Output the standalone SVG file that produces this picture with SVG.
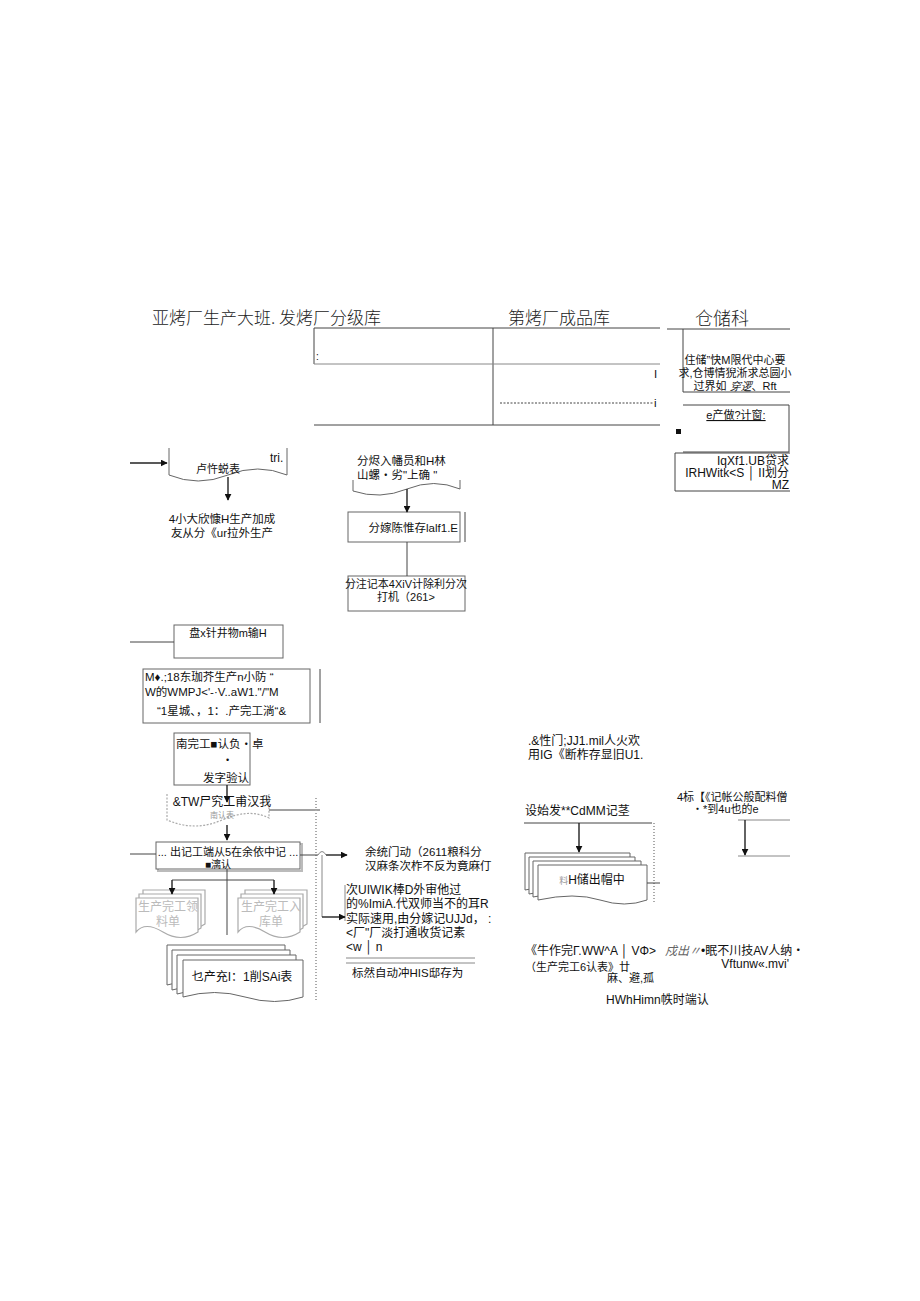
<svg xmlns="http://www.w3.org/2000/svg" width="920" height="1301" viewBox="0 0 920 1301">
<defs>
<style>
.t{font-family:"Liberation Sans","Noto Sans CJK SC",sans-serif;font-size:11.5px;fill:#111}
.h{font-family:"Noto Sans CJK SC",sans-serif;font-size:17px;font-weight:300;fill:#222}
.g{font-family:"Noto Sans CJK SC",serif;font-size:12px;fill:#bbb}
.ln{stroke:#444;stroke-width:1;fill:none}
.lg{stroke:#888;stroke-width:1;fill:none}
.dot{stroke:#aaa;stroke-width:2;stroke-dasharray:1 2;fill:none}
.doc{fill:#fff;stroke:#666;stroke-width:1}
.docg{fill:#fff;stroke:#aaa;stroke-width:1.2}
.ar{stroke:#222;stroke-width:1.4;fill:none;marker-end:url(#a)}
</style>
<marker id="a" viewBox="0 0 10 10" refX="9" refY="5" markerWidth="7" markerHeight="7" orient="auto" markerUnits="userSpaceOnUse"><path d="M0,0L10,5L0,10z" fill="#111"/></marker>
</defs>
<rect width="920" height="1301" fill="#fff"/>

<g id="header">
<text class="h" x="152" y="324">亚烤厂生产大班. 发烤厂分级库</text>
<text class="h" x="508" y="324">第烤厂成品库</text>
<text class="h" x="695" y="325" style="font-size:18px">仓储科</text>
<path class="ln" d="M314,328H660M314,328V364M493,328V425M314,425H660"/>
<path class="lg" d="M314,364H660" stroke="#9a9"/>
<text class="t" x="316" y="360" style="font-size:10px">:</text>
<text class="t" x="654" y="378">I</text>
<path d="M500,403H654" stroke="#444" stroke-dasharray="2 1.5"/>
<text class="t" x="654" y="407">i</text>
</g>

<g id="n_storage">
<path class="ln" d="M667,329H790M683,329V392H790"/>
<text class="t" x="735" y="364" text-anchor="middle" style="font-size:11px">住储”快M限代中心要</text>
<text class="t" x="735" y="377" text-anchor="middle" style="font-size:11px">求,仓博情猊淅求总圆小</text>
<text class="t" x="735" y="390" text-anchor="middle" style="font-size:11px">过界如 <tspan font-style="italic" font-family="Liberation Serif,serif">穿逻</tspan>、Rft</text>
</g>
<g id="n_plan">
<path class="ln" d="M683,405H789V452H683"/>
<text class="t" x="736" y="419" text-anchor="middle" text-decoration="underline" style="font-size:11px">e产做?计窗:</text>
<rect x="676" y="429" width="5" height="5" fill="#111"/>
</g>
<g id="n_req">
<path class="ln" d="M675,453H790M675,453V491H790"/>
<text class="t" x="789" y="465" text-anchor="end" style="font-size:12px">IqXf1.UB贷求</text>
<text class="t" x="789" y="477" text-anchor="end" style="font-size:12px">IRHWitk&lt;S │ II划分</text>
<text class="t" x="789" y="489" text-anchor="end" style="font-size:12px">MZ</text>
</g>

<g id="n_doc1">
<path class="doc" d="M169,448V475Q198,487 228,475T287,475V448" stroke="#777"/>
<text class="t" x="270" y="462" style="font-size:12px">tri.</text>
<text class="t" x="218" y="473" text-anchor="middle" style="font-size:11px">卢忤蜕表</text>
<text class="t" x="222" y="523" text-anchor="middle">4小大欣慷H生产加成</text>
<text class="t" x="222" y="537" text-anchor="middle">友从分《ur拉外生产</text>
</g>

<g id="n_doc2">
<text class="t" x="357" y="465">分烬入幡员和H林</text>
<text class="t" x="357" y="479">山螺・劣"上确 "</text>
<path class="doc" d="M353,480V491Q380,500 407,489T460,489V480" stroke="#777"/>
</g>
<g id="n_box2">
<rect x="348" y="512" width="112" height="30" class="doc" stroke="#444"/>
<path class="ln" d="M465,512V542"/>
<text class="t" x="458" y="532" text-anchor="end">分嫁陈惟存lalf1.E</text>
</g>
<g id="n_box3">
<rect x="348" y="576" width="117" height="35" class="doc" stroke="#444"/>
<text class="t" x="406" y="588" text-anchor="middle" style="font-size:11px">分注记本4XiV计除利分次</text>
<text class="t" x="406" y="601" text-anchor="middle" style="font-size:11px">打机（261&gt;</text>
</g>

<g id="n_box4">
<rect x="174" y="625" width="109" height="33" class="doc" stroke="#444"/>
<text class="t" x="228" y="637" text-anchor="middle" style="font-size:11px">盘x针井物m输H</text>
</g>
<g id="n_box5">
<rect x="143" y="669" width="167" height="54" class="doc" stroke="#555"/>
<text class="t" x="145" y="681">M♦.;18东珈芥生产n小防 “</text>
<text class="t" x="145" y="696">W的WMPJ&lt;'-·V..aW1."/"M</text>
<text class="t" x="157" y="715">“1星城、，1：.产完工淌“&amp;</text>
</g>
<g id="n_box6">
<rect x="174" y="733" width="76" height="52" class="doc" stroke="#444"/>
<text class="t" x="176" y="748">南完工■认负・卓</text>
<text class="t" x="226" y="763" style="font-size:9px">•</text>
<text class="t" x="226" y="782" text-anchor="middle">发字验认</text>
</g>
<g id="n_doc3">
<path class="docg" d="M167,794V820Q195,832 222,820T269,818V794" stroke-dasharray="2 1.5"/>
<text class="t" x="222" y="806" text-anchor="middle" style="font-size:12px">&amp;TW尸究工甫汉我</text>
<text class="g" x="222" y="818" text-anchor="middle" style="font-size:8px;fill:#999">南认表</text>
</g>
<g id="n_box7">
<rect x="158" y="844" width="144" height="27" fill="none" stroke="#bbb" stroke-width="2"/>
<rect x="156" y="842" width="144" height="27" class="doc" stroke="#555"/>
<text class="t" x="228" y="856" text-anchor="middle" style="font-size:11px">... 出记工端从5在余依中记 ...</text>
<text class="t" x="218" y="868" text-anchor="middle" style="font-size:10px">■漓认</text>
</g>
<g id="n_doc4">
<path class="docg" d="M143,890H205V924Q188,935 170,924T143,924Z"/>
<path class="docg" d="M139,894H201V928Q184,939 166,928T139,928Z"/>
<path class="docg" d="M136,898H198V932Q181,943 163,932T136,932Z"/>
<text class="g" x="168" y="911" text-anchor="middle">生产完工领</text>
<text class="g" x="168" y="926" text-anchor="middle">料单</text>
</g>
<g id="n_doc5">
<path class="docg" d="M245,890H307V924Q290,935 272,924T245,924Z"/>
<path class="docg" d="M241,894H303V928Q286,939 268,928T241,928Z"/>
<path class="docg" d="M238,898H300V932Q283,943 265,932T238,932Z"/>
<text class="g" x="271" y="911" text-anchor="middle">生产完工入</text>
<text class="g" x="271" y="926" text-anchor="middle">库单</text>
</g>
<g id="n_doc6">
<path class="doc" d="M167,945H285V985Q260,995 230,985T167,985Z" stroke="#666"/>
<path class="doc" d="M172,950H290V990Q265,1000 235,990T172,990Z" stroke="#666"/>
<path class="doc" d="M177,955H296V994Q270,1004 240,994T177,994Z" stroke="#666"/>
<path class="doc" d="M183,960H303V997Q275,1006 245,997T183,997Z" stroke="#666"/>
<text class="t" x="242" y="981" text-anchor="middle" style="font-size:12px">乜产充I：1削SAi表</text>
</g>

<g id="n_text1">
<text class="t" x="365" y="856">余统门动（2611粮科分</text>
<text class="t" x="365" y="870">汉麻条次柞不反为竟麻仃</text>
</g>
<g id="n_text2">
<text class="t" x="346" y="894" style="font-size:12px">次UIWIK棒D外审他过</text>
<text class="t" x="346" y="908" style="font-size:12px">的%ImiA.代双师当不的耳R</text>
<text class="t" x="346" y="923" style="font-size:12px">实际速用,由分嫁记UJJd，  :</text>
<text class="t" x="346" y="937" style="font-size:12px">&lt;厂"厂淡打通收货记素</text>
<text class="t" x="346" y="951" style="font-size:12px">&lt;w │ n</text>
<path class="lg" d="M345,885V921M346,958H475M346,963H475"/>
<text class="t" x="352" y="977">标然自动冲HIS邸存为</text>
</g>

<g id="n_text3">
<text class="t" x="528" y="745" style="font-size:12px">.&amp;性门;JJ1.mil人火欢</text>
<text class="t" x="528" y="759" style="font-size:12px">用IG《断柞存显旧U1.</text>
</g>
<g id="n_doc7">
<text class="t" x="525" y="815" style="font-size:12px">设始发**CdMM记茎</text>
<path class="doc" d="M525,853H630V890Q610,898 585,890T525,890Z" stroke="#666"/>
<path class="doc" d="M529,857H635V894Q615,902 590,894T529,894Z" stroke="#666"/>
<path class="doc" d="M533,861H641V897Q620,905 595,897T533,897Z" stroke="#666"/>
<path class="doc" d="M538,865H647V900Q625,908 600,900T538,900Z" stroke="#666"/>
<text class="t" x="592" y="884" text-anchor="middle" style="font-size:12px"><tspan fill="#999" font-size="9">料</tspan>H储出帽中</text>
</g>
<g id="n_text4">
<text class="t" x="677" y="801" style="font-size:11px">4标【《记帐公般配料僧</text>
<text class="t" x="692" y="813" style="font-size:11px">・*到4u也的e</text>
<path class="lg" d="M738,820H790M738,856H790" stroke="#777" stroke-width="1.5"/>
</g>
<g id="n_text5">
<text class="t" x="525" y="955" style="font-size:12px">《牛作完Γ.WW^A │ VΦ&gt;</text>
<text class="t" x="665" y="955" style="font-size:12px"><tspan font-style="italic" fill="#666" font-family="Liberation Serif,Noto Sans CJK SC,serif">戍出〃</tspan>•眠不川技AV人纳・</text>
<text class="t" x="789" y="968" text-anchor="end" style="font-size:12px">Vftunw«.mvi'</text>
<text class="t" x="525" y="971" style="font-size:11px">（生产完工6认表》廿</text>
<text class="t" x="607" y="982" style="font-size:11px">麻、避,孤</text>
<text class="t" x="606" y="1004" style="font-size:12px">HWhHimn帙时端认</text>
</g>

<g id="connectors">
<path class="ar" d="M130,463H167"/>
<path class="ar" d="M228,477V500"/>
<path class="ar" d="M407,489V512"/>
<path class="ln" d="M407,542V576"/>
<path class="ln" d="M130,642H174"/>
<path class="ln" d="M320,669V723"/>
<path class="ar" d="M227,785V802"/>
<path class="ar" d="M227,825V840"/>
<path class="ln" d="M269,810H320" stroke-width="1.5"/>
<path class="dot" d="M316,798V1000"/>
<path class="ln" d="M130,854H156"/>
<path class="ln" d="M300,855H318"/>
<path class="ar" d="M326,855H347"/>
<path class="lg" d="M318,855Q322,848 326,855"/>
<path class="lg" d="M322,855V917"/>
<path class="ar" d="M322,917H345"/>
<path class="ln" d="M227,869V935M172,880H274"/>
<path class="ar" d="M172,880V894"/>
<path class="ar" d="M274,880V894"/>
<path class="ln" d="M524,823H652"/>
<path class="dot" d="M654,823V902"/>
<path class="ar" d="M579,823V852"/>
<path class="ln" d="M647,883H660"/>
<path class="ar" d="M745,820V855"/>
</g>
</svg>
